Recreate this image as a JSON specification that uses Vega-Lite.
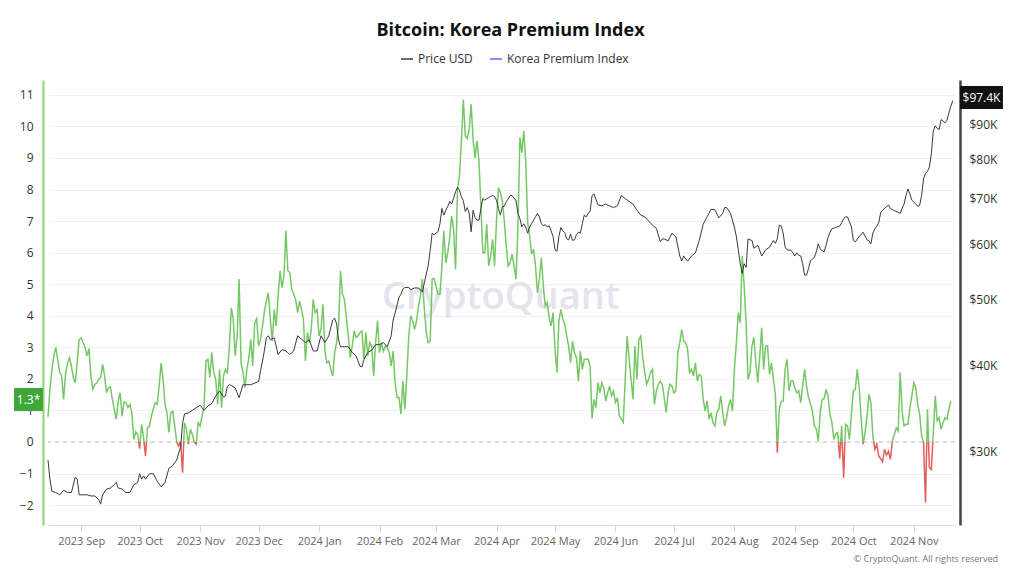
{
"$schema":"https://vega.github.io/schema/vega-lite/v6.json",
"width":907,"height":445,
"autosize":{"type":"none"},
"padding":{"left":48,"top":80,"right":69,"bottom":51},
"background":"white",
"config":{"font":"Open Sans","view":{"stroke":null},
 "axisY":{"title":null}},
"title":{"text":"Bitcoin: Korea Premium Index","fontSize":18,"fontWeight":"bold","color":"#111","anchor":"middle","frame":"group","dx":9,"offset":12},
"datasets":{
"prem":[
{"t":"2023-08-15","k":0.8},{"t":"2023-08-16","k":1.67},{"t":"2023-08-17","k":2.3},{"t":"2023-08-18","k":2.73},{"t":"2023-08-19","k":3.0},{"t":"2023-08-20","k":2.62},{"t":"2023-08-21","k":2.2},{"t":"2023-08-22","k":2.1},{"t":"2023-08-23","k":1.35},{"t":"2023-08-24","k":2.15},{"t":"2023-08-25","k":2.5},{"t":"2023-08-26","k":2.67},{"t":"2023-08-27","k":2.4},{"t":"2023-08-28","k":2.04},{"t":"2023-08-29","k":1.88},{"t":"2023-08-30","k":2.57},{"t":"2023-08-31","k":3.25},
{"t":"2023-09-01","k":3.3},{"t":"2023-09-02","k":3.15},{"t":"2023-09-03","k":3.0},{"t":"2023-09-04","k":2.73},{"t":"2023-09-05","k":2.96},{"t":"2023-09-06","k":2.1},{"t":"2023-09-07","k":1.67},{"t":"2023-09-08","k":1.83},{"t":"2023-09-09","k":1.86},{"t":"2023-09-10","k":1.99},{"t":"2023-09-11","k":2.04},{"t":"2023-09-12","k":2.46},{"t":"2023-09-13","k":2.1},{"t":"2023-09-14","k":1.56},{"t":"2023-09-15","k":1.72},{"t":"2023-09-16","k":1.75},{"t":"2023-09-17","k":1.35},{"t":"2023-09-18","k":1.04},{"t":"2023-09-19","k":0.72},{"t":"2023-09-20","k":1.3},{"t":"2023-09-21","k":1.56},{"t":"2023-09-22","k":0.82},{"t":"2023-09-23","k":1.27},{"t":"2023-09-24","k":1.25},{"t":"2023-09-25","k":1.09},{"t":"2023-09-26","k":1.19},{"t":"2023-09-27","k":0.93},{"t":"2023-09-28","k":0.08},{"t":"2023-09-29","k":0.32},{"t":"2023-09-30","k":0.24},
{"t":"2023-10-01","k":-0.21},{"t":"2023-10-02","k":0.56},{"t":"2023-10-03","k":0.14},{"t":"2023-10-04","k":-0.44},{"t":"2023-10-05","k":0.45},{"t":"2023-10-06","k":0.5},{"t":"2023-10-07","k":0.82},{"t":"2023-10-08","k":1.04},{"t":"2023-10-09","k":1.25},{"t":"2023-10-10","k":1.19},{"t":"2023-10-11","k":1.77},{"t":"2023-10-12","k":2.5},{"t":"2023-10-13","k":1.99},{"t":"2023-10-14","k":1.19},{"t":"2023-10-15","k":0.93},{"t":"2023-10-16","k":0.3},{"t":"2023-10-17","k":0.93},{"t":"2023-10-18","k":0.98},{"t":"2023-10-19","k":0.5},{"t":"2023-10-20","k":0.0},{"t":"2023-10-21","k":-0.13},{"t":"2023-10-22","k":0.03},{"t":"2023-10-23","k":-0.97},{"t":"2023-10-24","k":0.61},{"t":"2023-10-25","k":0.4},{"t":"2023-10-26","k":-0.07},{"t":"2023-10-27","k":0.4},{"t":"2023-10-28","k":0.24},{"t":"2023-10-29","k":0.0},{"t":"2023-10-30","k":-0.07},{"t":"2023-10-31","k":0.61},
{"t":"2023-11-01","k":0.5},{"t":"2023-11-02","k":0.82},{"t":"2023-11-03","k":1.09},{"t":"2023-11-04","k":2.57},{"t":"2023-11-05","k":2.62},{"t":"2023-11-06","k":2.04},{"t":"2023-11-07","k":2.83},{"t":"2023-11-08","k":2.2},{"t":"2023-11-09","k":1.99},{"t":"2023-11-10","k":1.19},{"t":"2023-11-11","k":2.3},{"t":"2023-11-12","k":1.09},{"t":"2023-11-13","k":2.1},{"t":"2023-11-14","k":2.3},{"t":"2023-11-15","k":2.2},{"t":"2023-11-16","k":3.0},{"t":"2023-11-17","k":4.25},{"t":"2023-11-18","k":3.9},{"t":"2023-11-19","k":2.73},{"t":"2023-11-20","k":3.36},{"t":"2023-11-21","k":5.16},{"t":"2023-11-22","k":2.5},{"t":"2023-11-23","k":2.2},{"t":"2023-11-24","k":1.72},{"t":"2023-11-25","k":2.3},{"t":"2023-11-26","k":2.67},{"t":"2023-11-27","k":3.25},{"t":"2023-11-28","k":2.41},{"t":"2023-11-29","k":3.78},{"t":"2023-11-30","k":3.91},
{"t":"2023-12-01","k":3.04},{"t":"2023-12-02","k":3.25},{"t":"2023-12-03","k":3.68},{"t":"2023-12-04","k":4.15},{"t":"2023-12-05","k":4.47},{"t":"2023-12-06","k":4.73},{"t":"2023-12-07","k":3.89},{"t":"2023-12-08","k":3.2},{"t":"2023-12-09","k":4.2},{"t":"2023-12-10","k":3.68},{"t":"2023-12-11","k":4.63},{"t":"2023-12-12","k":5.42},{"t":"2023-12-13","k":4.89},{"t":"2023-12-14","k":5.26},{"t":"2023-12-15","k":6.69},{"t":"2023-12-16","k":5.42},{"t":"2023-12-17","k":5.37},{"t":"2023-12-18","k":4.84},{"t":"2023-12-19","k":4.68},{"t":"2023-12-20","k":4.52},{"t":"2023-12-21","k":4.1},{"t":"2023-12-22","k":4.47},{"t":"2023-12-23","k":4.2},{"t":"2023-12-24","k":3.89},{"t":"2023-12-25","k":2.57},{"t":"2023-12-26","k":3.47},{"t":"2023-12-27","k":3.15},{"t":"2023-12-28","k":3.57},{"t":"2023-12-29","k":4.52},{"t":"2023-12-30","k":4.1},{"t":"2023-12-31","k":4.2},
{"t":"2024-01-01","k":3.36},{"t":"2024-01-02","k":3.57},{"t":"2024-01-03","k":4.36},{"t":"2024-01-04","k":2.88},{"t":"2024-01-05","k":2.51},{"t":"2024-01-06","k":2.57},{"t":"2024-01-07","k":2.3},{"t":"2024-01-08","k":2.09},{"t":"2024-01-09","k":2.83},{"t":"2024-01-10","k":3.15},{"t":"2024-01-11","k":3.68},{"t":"2024-01-12","k":5.42},{"t":"2024-01-13","k":4.68},{"t":"2024-01-14","k":4.52},{"t":"2024-01-15","k":3.94},{"t":"2024-01-16","k":3.36},{"t":"2024-01-17","k":2.67},{"t":"2024-01-18","k":3.04},{"t":"2024-01-19","k":3.52},{"t":"2024-01-20","k":3.31},{"t":"2024-01-21","k":3.36},{"t":"2024-01-22","k":3.47},{"t":"2024-01-23","k":3.52},{"t":"2024-01-24","k":2.62},{"t":"2024-01-25","k":3.47},{"t":"2024-01-26","k":2.73},{"t":"2024-01-27","k":3.15},{"t":"2024-01-28","k":3.04},{"t":"2024-01-29","k":2.09},{"t":"2024-01-30","k":3.15},{"t":"2024-01-31","k":3.84},
{"t":"2024-02-01","k":2.83},{"t":"2024-02-02","k":3.15},{"t":"2024-02-03","k":2.88},{"t":"2024-02-04","k":3.04},{"t":"2024-02-05","k":2.99},{"t":"2024-02-06","k":2.83},{"t":"2024-02-07","k":2.41},{"t":"2024-02-08","k":2.88},{"t":"2024-02-09","k":1.88},{"t":"2024-02-10","k":1.41},{"t":"2024-02-11","k":1.41},{"t":"2024-02-12","k":0.88},{"t":"2024-02-13","k":1.93},{"t":"2024-02-14","k":1.04},{"t":"2024-02-15","k":2.09},{"t":"2024-02-16","k":3.36},{"t":"2024-02-17","k":4.0},{"t":"2024-02-18","k":3.84},{"t":"2024-02-19","k":3.57},{"t":"2024-02-20","k":3.84},{"t":"2024-02-21","k":4.31},{"t":"2024-02-22","k":4.63},{"t":"2024-02-23","k":5.16},{"t":"2024-02-24","k":4.2},{"t":"2024-02-25","k":3.47},{"t":"2024-02-26","k":3.15},{"t":"2024-02-27","k":3.2},{"t":"2024-02-28","k":5.16},{"t":"2024-02-29","k":5.18},
{"t":"2024-03-01","k":4.94},{"t":"2024-03-02","k":4.68},{"t":"2024-03-03","k":4.68},{"t":"2024-03-04","k":5.58},{"t":"2024-03-05","k":6.69},{"t":"2024-03-06","k":5.68},{"t":"2024-03-07","k":6.0},{"t":"2024-03-08","k":6.48},{"t":"2024-03-09","k":7.16},{"t":"2024-03-10","k":6.74},{"t":"2024-03-11","k":5.47},{"t":"2024-03-12","k":8.0},{"t":"2024-03-13","k":8.43},{"t":"2024-03-14","k":9.54},{"t":"2024-03-15","k":10.85},{"t":"2024-03-16","k":9.7},{"t":"2024-03-17","k":9.62},{"t":"2024-03-18","k":9.91},{"t":"2024-03-19","k":10.7},{"t":"2024-03-20","k":9.59},{"t":"2024-03-21","k":9.0},{"t":"2024-03-22","k":9.54},{"t":"2024-03-23","k":8.9},{"t":"2024-03-24","k":7.48},{"t":"2024-03-25","k":6.0},{"t":"2024-03-26","k":6.0},{"t":"2024-03-27","k":6.9},{"t":"2024-03-28","k":5.58},{"t":"2024-03-29","k":5.9},{"t":"2024-03-30","k":6.42},{"t":"2024-03-31","k":5.58},
{"t":"2024-04-01","k":7.0},{"t":"2024-04-02","k":8.06},{"t":"2024-04-03","k":7.9},{"t":"2024-04-04","k":7.64},{"t":"2024-04-05","k":7.0},{"t":"2024-04-06","k":6.2},{"t":"2024-04-07","k":5.58},{"t":"2024-04-08","k":5.68},{"t":"2024-04-09","k":5.95},{"t":"2024-04-10","k":5.58},{"t":"2024-04-11","k":5.16},{"t":"2024-04-12","k":6.85},{"t":"2024-04-13","k":9.65},{"t":"2024-04-14","k":9.17},{"t":"2024-04-15","k":9.86},{"t":"2024-04-16","k":8.85},{"t":"2024-04-17","k":6.95},{"t":"2024-04-18","k":6.52},{"t":"2024-04-19","k":5.95},{"t":"2024-04-20","k":6.11},{"t":"2024-04-21","k":5.58},{"t":"2024-04-22","k":4.73},{"t":"2024-04-23","k":5.16},{"t":"2024-04-24","k":5.84},{"t":"2024-04-25","k":4.94},{"t":"2024-04-26","k":4.31},{"t":"2024-04-27","k":4.42},{"t":"2024-04-28","k":3.94},{"t":"2024-04-29","k":3.68},{"t":"2024-04-30","k":4.1},
{"t":"2024-05-01","k":2.94},{"t":"2024-05-02","k":2.2},{"t":"2024-05-03","k":3.84},{"t":"2024-05-04","k":4.2},{"t":"2024-05-05","k":3.89},{"t":"2024-05-06","k":3.73},{"t":"2024-05-07","k":3.36},{"t":"2024-05-08","k":3.04},{"t":"2024-05-09","k":2.51},{"t":"2024-05-10","k":3.2},{"t":"2024-05-11","k":2.83},{"t":"2024-05-12","k":2.67},{"t":"2024-05-13","k":1.93},{"t":"2024-05-14","k":2.88},{"t":"2024-05-15","k":2.3},{"t":"2024-05-16","k":2.62},{"t":"2024-05-17","k":2.62},{"t":"2024-05-18","k":2.62},{"t":"2024-05-19","k":2.41},{"t":"2024-05-20","k":0.75},{"t":"2024-05-21","k":1.35},{"t":"2024-05-22","k":1.09},{"t":"2024-05-23","k":1.88},{"t":"2024-05-24","k":1.56},{"t":"2024-05-25","k":1.88},{"t":"2024-05-26","k":1.72},{"t":"2024-05-27","k":1.3},{"t":"2024-05-28","k":1.56},{"t":"2024-05-29","k":1.77},{"t":"2024-05-30","k":1.46},{"t":"2024-05-31","k":1.62},
{"t":"2024-06-01","k":1.25},{"t":"2024-06-02","k":1.41},{"t":"2024-06-03","k":0.82},{"t":"2024-06-04","k":0.74},{"t":"2024-06-05","k":0.63},{"t":"2024-06-06","k":1.99},{"t":"2024-06-07","k":3.36},{"t":"2024-06-08","k":2.62},{"t":"2024-06-09","k":1.99},{"t":"2024-06-10","k":1.35},{"t":"2024-06-11","k":3.04},{"t":"2024-06-12","k":1.99},{"t":"2024-06-13","k":3.25},{"t":"2024-06-14","k":3.36},{"t":"2024-06-15","k":2.67},{"t":"2024-06-16","k":2.2},{"t":"2024-06-17","k":1.83},{"t":"2024-06-18","k":1.99},{"t":"2024-06-19","k":2.2},{"t":"2024-06-20","k":2.3},{"t":"2024-06-21","k":1.19},{"t":"2024-06-22","k":1.62},{"t":"2024-06-23","k":1.83},{"t":"2024-06-24","k":1.93},{"t":"2024-06-25","k":1.83},{"t":"2024-06-26","k":1.41},{"t":"2024-06-27","k":0.93},{"t":"2024-06-28","k":1.56},{"t":"2024-06-29","k":1.83},{"t":"2024-06-30","k":1.77},
{"t":"2024-07-01","k":1.56},{"t":"2024-07-02","k":1.62},{"t":"2024-07-03","k":2.83},{"t":"2024-07-04","k":3.15},{"t":"2024-07-05","k":3.57},{"t":"2024-07-06","k":3.2},{"t":"2024-07-07","k":3.15},{"t":"2024-07-08","k":2.94},{"t":"2024-07-09","k":2.2},{"t":"2024-07-10","k":2.3},{"t":"2024-07-11","k":2.09},{"t":"2024-07-12","k":2.51},{"t":"2024-07-13","k":1.93},{"t":"2024-07-14","k":2.14},{"t":"2024-07-15","k":2.09},{"t":"2024-07-16","k":1.35},{"t":"2024-07-17","k":0.98},{"t":"2024-07-18","k":1.3},{"t":"2024-07-19","k":0.72},{"t":"2024-07-20","k":0.93},{"t":"2024-07-21","k":0.61},{"t":"2024-07-22","k":0.51},{"t":"2024-07-23","k":0.93},{"t":"2024-07-24","k":1.04},{"t":"2024-07-25","k":1.46},{"t":"2024-07-26","k":0.93},{"t":"2024-07-27","k":0.51},{"t":"2024-07-28","k":0.77},{"t":"2024-07-29","k":1.14},{"t":"2024-07-30","k":1.35},{"t":"2024-07-31","k":0.98},
{"t":"2024-08-01","k":2.3},{"t":"2024-08-02","k":3.15},{"t":"2024-08-03","k":4.1},{"t":"2024-08-04","k":3.78},{"t":"2024-08-05","k":5.9},{"t":"2024-08-06","k":4.94},{"t":"2024-08-07","k":3.78},{"t":"2024-08-08","k":1.99},{"t":"2024-08-09","k":2.2},{"t":"2024-08-10","k":3.04},{"t":"2024-08-11","k":3.31},{"t":"2024-08-12","k":2.51},{"t":"2024-08-13","k":1.88},{"t":"2024-08-14","k":2.73},{"t":"2024-08-15","k":3.62},{"t":"2024-08-16","k":2.3},{"t":"2024-08-17","k":3.04},{"t":"2024-08-18","k":3.04},{"t":"2024-08-19","k":2.14},{"t":"2024-08-20","k":2.51},{"t":"2024-08-21","k":1.99},{"t":"2024-08-22","k":1.5},{"t":"2024-08-23","k":-0.34},{"t":"2024-08-24","k":1.04},{"t":"2024-08-25","k":1.28},{"t":"2024-08-26","k":1.3},{"t":"2024-08-27","k":2.3},{"t":"2024-08-28","k":2.62},{"t":"2024-08-29","k":1.62},{"t":"2024-08-30","k":1.93},{"t":"2024-08-31","k":1.93},
{"t":"2024-09-01","k":1.72},{"t":"2024-09-02","k":1.56},{"t":"2024-09-03","k":1.62},{"t":"2024-09-04","k":1.25},{"t":"2024-09-05","k":1.77},{"t":"2024-09-06","k":2.3},{"t":"2024-09-07","k":1.77},{"t":"2024-09-08","k":1.41},{"t":"2024-09-09","k":1.22},{"t":"2024-09-10","k":0.98},{"t":"2024-09-11","k":0.51},{"t":"2024-09-12","k":0.42},{"t":"2024-09-13","k":0.03},{"t":"2024-09-14","k":0.93},{"t":"2024-09-15","k":1.35},{"t":"2024-09-16","k":1.37},{"t":"2024-09-17","k":1.67},{"t":"2024-09-18","k":1.46},{"t":"2024-09-19","k":0.88},{"t":"2024-09-20","k":0.61},{"t":"2024-09-21","k":0.08},{"t":"2024-09-22","k":0.27},{"t":"2024-09-23","k":0.3},{"t":"2024-09-24","k":-0.53},{"t":"2024-09-25","k":0.51},{"t":"2024-09-26","k":-1.13},{"t":"2024-09-27","k":0.56},{"t":"2024-09-28","k":0.51},{"t":"2024-09-29","k":0.08},{"t":"2024-09-30","k":0.88},
{"t":"2024-10-01","k":1.62},{"t":"2024-10-02","k":1.67},{"t":"2024-10-03","k":2.3},{"t":"2024-10-04","k":1.72},{"t":"2024-10-05","k":0.72},{"t":"2024-10-06","k":-0.07},{"t":"2024-10-07","k":0.3},{"t":"2024-10-08","k":0.82},{"t":"2024-10-09","k":1.51},{"t":"2024-10-10","k":1.25},{"t":"2024-10-11","k":0.19},{"t":"2024-10-12","k":-0.23},{"t":"2024-10-13","k":-0.07},{"t":"2024-10-14","k":-0.44},{"t":"2024-10-15","k":-0.53},{"t":"2024-10-16","k":-0.63},{"t":"2024-10-17","k":-0.23},{"t":"2024-10-18","k":-0.42},{"t":"2024-10-19","k":-0.29},{"t":"2024-10-20","k":-0.55},{"t":"2024-10-21","k":0.03},{"t":"2024-10-22","k":0.24},{"t":"2024-10-23","k":0.45},{"t":"2024-10-24","k":0.35},{"t":"2024-10-25","k":2.2},{"t":"2024-10-26","k":0.98},{"t":"2024-10-27","k":0.51},{"t":"2024-10-28","k":0.56},{"t":"2024-10-29","k":0.56},{"t":"2024-10-30","k":1.09},{"t":"2024-10-31","k":1.46},
{"t":"2024-11-01","k":1.88},{"t":"2024-11-02","k":1.72},{"t":"2024-11-03","k":1.19},{"t":"2024-11-04","k":0.88},{"t":"2024-11-05","k":0.19},{"t":"2024-11-06","k":0.0},{"t":"2024-11-07","k":-1.92},{"t":"2024-11-08","k":1.04},{"t":"2024-11-09","k":-0.81},{"t":"2024-11-10","k":-0.87},{"t":"2024-11-11","k":0.3},{"t":"2024-11-12","k":1.46},{"t":"2024-11-13","k":0.67},{"t":"2024-11-14","k":0.77},{"t":"2024-11-15","k":0.4},{"t":"2024-11-16","k":0.61},{"t":"2024-11-17","k":0.77},{"t":"2024-11-18","k":0.72},{"t":"2024-11-19","k":1.04},{"t":"2024-11-20","k":1.3}
],
"price":[
{"t":"2023-08-15","p":29100},{"t":"2023-08-16","p":27300},{"t":"2023-08-17","p":26200},{"t":"2023-08-19","p":26100},{"t":"2023-08-21","p":25900},{"t":"2023-08-23","p":26300},{"t":"2023-08-25","p":26100},{"t":"2023-08-27","p":26100},{"t":"2023-08-29","p":27500},{"t":"2023-08-30","p":27300},{"t":"2023-08-31","p":25900},
{"t":"2023-09-02","p":25900},{"t":"2023-09-04","p":25900},{"t":"2023-09-06","p":25800},{"t":"2023-09-08","p":25800},{"t":"2023-09-10","p":25500},{"t":"2023-09-11","p":25100},{"t":"2023-09-12","p":25900},{"t":"2023-09-14","p":26400},{"t":"2023-09-16","p":26500},{"t":"2023-09-18","p":26800},{"t":"2023-09-19","p":27000},{"t":"2023-09-20","p":26500},{"t":"2023-09-22","p":26400},{"t":"2023-09-24","p":26100},{"t":"2023-09-26","p":26100},{"t":"2023-09-28","p":26800},{"t":"2023-09-30","p":27000},
{"t":"2023-10-01","p":27800},{"t":"2023-10-02","p":27300},{"t":"2023-10-03","p":27600},{"t":"2023-10-04","p":27300},{"t":"2023-10-06","p":27800},{"t":"2023-10-08","p":27800},{"t":"2023-10-10","p":27100},{"t":"2023-10-12","p":26600},{"t":"2023-10-14","p":27000},{"t":"2023-10-16","p":28300},{"t":"2023-10-18","p":28600},{"t":"2023-10-20","p":29100},{"t":"2023-10-21","p":29800},{"t":"2023-10-22","p":30400},{"t":"2023-10-23","p":32900},{"t":"2023-10-24","p":34000},{"t":"2023-10-26","p":34100},{"t":"2023-10-28","p":34400},{"t":"2023-10-30","p":34700},
{"t":"2023-11-01","p":35000},{"t":"2023-11-03","p":34400},{"t":"2023-11-05","p":34900},{"t":"2023-11-07","p":35200},{"t":"2023-11-09","p":36100},{"t":"2023-11-11","p":36700},{"t":"2023-11-13","p":36000},{"t":"2023-11-14","p":36100},{"t":"2023-11-15","p":37300},{"t":"2023-11-16","p":37500},{"t":"2023-11-17","p":37400},{"t":"2023-11-19","p":37100},{"t":"2023-11-21","p":35900},{"t":"2023-11-23","p":37500},{"t":"2023-11-25","p":37500},{"t":"2023-11-27","p":37500},{"t":"2023-11-29","p":37700},
{"t":"2023-12-01","p":37900},{"t":"2023-12-02","p":39300},{"t":"2023-12-03","p":40600},{"t":"2023-12-04","p":42100},{"t":"2023-12-05","p":43900},{"t":"2023-12-06","p":44200},{"t":"2023-12-07","p":43600},{"t":"2023-12-09","p":43900},{"t":"2023-12-11","p":41500},{"t":"2023-12-13","p":42200},{"t":"2023-12-15","p":42000},{"t":"2023-12-17","p":41500},{"t":"2023-12-19","p":42000},{"t":"2023-12-21","p":44200},{"t":"2023-12-23","p":43700},{"t":"2023-12-25","p":43200},{"t":"2023-12-27","p":43600},{"t":"2023-12-29","p":42000},{"t":"2023-12-31","p":42000},
{"t":"2024-01-02","p":44200},{"t":"2024-01-04","p":43200},{"t":"2024-01-06","p":44200},{"t":"2024-01-08","p":46600},{"t":"2024-01-09","p":46900},{"t":"2024-01-10","p":46000},{"t":"2024-01-11","p":43600},{"t":"2024-01-12","p":42600},{"t":"2024-01-14","p":42600},{"t":"2024-01-16","p":42600},{"t":"2024-01-18","p":41800},{"t":"2024-01-20","p":41300},{"t":"2024-01-22","p":39900},{"t":"2024-01-23","p":39800},{"t":"2024-01-24","p":40800},{"t":"2024-01-26","p":41800},{"t":"2024-01-28","p":42100},{"t":"2024-01-30","p":42900},
{"t":"2024-02-01","p":42900},{"t":"2024-02-03","p":43200},{"t":"2024-02-05","p":42600},{"t":"2024-02-07","p":44200},{"t":"2024-02-08","p":46600},{"t":"2024-02-09","p":47700},{"t":"2024-02-10","p":49000},{"t":"2024-02-11","p":50300},{"t":"2024-02-12","p":50800},{"t":"2024-02-13","p":51700},{"t":"2024-02-14","p":52000},{"t":"2024-02-16","p":52000},{"t":"2024-02-17","p":51600},{"t":"2024-02-19","p":51900},{"t":"2024-02-21","p":51900},{"t":"2024-02-23","p":51200},{"t":"2024-02-24","p":52800},{"t":"2024-02-25","p":54400},{"t":"2024-02-26","p":56000},{"t":"2024-02-27","p":58900},{"t":"2024-02-28","p":62400},{"t":"2024-02-29","p":62100},
{"t":"2024-03-01","p":62400},{"t":"2024-03-02","p":62700},{"t":"2024-03-03","p":64400},{"t":"2024-03-04","p":67800},{"t":"2024-03-05","p":66300},{"t":"2024-03-06","p":67400},{"t":"2024-03-07","p":68300},{"t":"2024-03-08","p":69400},{"t":"2024-03-09","p":68800},{"t":"2024-03-10","p":70100},{"t":"2024-03-11","p":71700},{"t":"2024-03-12","p":72800},{"t":"2024-03-13","p":72100},{"t":"2024-03-14","p":70500},{"t":"2024-03-15","p":69600},{"t":"2024-03-16","p":67100},{"t":"2024-03-17","p":68000},{"t":"2024-03-18","p":66700},{"t":"2024-03-19","p":62700},{"t":"2024-03-20","p":67400},{"t":"2024-03-21","p":65700},{"t":"2024-03-22","p":65200},{"t":"2024-03-23","p":65200},{"t":"2024-03-24","p":67800},{"t":"2024-03-25","p":70100},{"t":"2024-03-26","p":69700},{"t":"2024-03-27","p":70100},{"t":"2024-03-28","p":70300},{"t":"2024-03-29","p":70600},{"t":"2024-03-30","p":70800},{"t":"2024-03-31","p":70600},
{"t":"2024-04-01","p":69700},{"t":"2024-04-02","p":67800},{"t":"2024-04-03","p":66300},{"t":"2024-04-04","p":68200},{"t":"2024-04-05","p":68300},{"t":"2024-04-06","p":69400},{"t":"2024-04-07","p":70000},{"t":"2024-04-08","p":70800},{"t":"2024-04-09","p":70800},{"t":"2024-04-10","p":70100},{"t":"2024-04-11","p":69700},{"t":"2024-04-12","p":66700},{"t":"2024-04-13","p":65500},{"t":"2024-04-14","p":63700},{"t":"2024-04-15","p":64400},{"t":"2024-04-16","p":63700},{"t":"2024-04-17","p":62400},{"t":"2024-04-18","p":63700},{"t":"2024-04-19","p":64400},{"t":"2024-04-20","p":65200},{"t":"2024-04-21","p":65900},{"t":"2024-04-22","p":66700},{"t":"2024-04-23","p":65900},{"t":"2024-04-24","p":64400},{"t":"2024-04-25","p":64000},{"t":"2024-04-26","p":64200},{"t":"2024-04-27","p":63700},{"t":"2024-04-28","p":64000},{"t":"2024-04-29","p":62900},{"t":"2024-04-30","p":61700},
{"t":"2024-05-01","p":59000},{"t":"2024-05-02","p":58700},{"t":"2024-05-03","p":61700},{"t":"2024-05-04","p":63600},{"t":"2024-05-05","p":62900},{"t":"2024-05-06","p":62500},{"t":"2024-05-07","p":61200},{"t":"2024-05-08","p":61000},{"t":"2024-05-09","p":62200},{"t":"2024-05-10","p":60900},{"t":"2024-05-11","p":61000},{"t":"2024-05-12","p":62100},{"t":"2024-05-13","p":62600},{"t":"2024-05-14","p":62400},{"t":"2024-05-15","p":64400},{"t":"2024-05-16","p":66300},{"t":"2024-05-17","p":65900},{"t":"2024-05-18","p":66700},{"t":"2024-05-19","p":67100},{"t":"2024-05-20","p":70800},{"t":"2024-05-21","p":71200},{"t":"2024-05-23","p":68600},{"t":"2024-05-25","p":68400},{"t":"2024-05-27","p":68800},{"t":"2024-05-29","p":68400},{"t":"2024-05-31","p":68000},
{"t":"2024-06-02","p":68400},{"t":"2024-06-04","p":70800},{"t":"2024-06-06","p":70100},{"t":"2024-06-08","p":69400},{"t":"2024-06-10","p":68800},{"t":"2024-06-12","p":67400},{"t":"2024-06-14","p":66300},{"t":"2024-06-16","p":65900},{"t":"2024-06-18","p":65000},{"t":"2024-06-20","p":64100},{"t":"2024-06-22","p":63400},{"t":"2024-06-24","p":60600},{"t":"2024-06-25","p":61200},{"t":"2024-06-26","p":61200},{"t":"2024-06-28","p":60800},{"t":"2024-06-30","p":62400},
{"t":"2024-07-02","p":61600},{"t":"2024-07-04","p":57800},{"t":"2024-07-05","p":56800},{"t":"2024-07-06","p":57800},{"t":"2024-07-07","p":57200},{"t":"2024-07-08","p":56800},{"t":"2024-07-10","p":57800},{"t":"2024-07-12","p":58400},{"t":"2024-07-14","p":60900},{"t":"2024-07-16","p":64300},{"t":"2024-07-18","p":65900},{"t":"2024-07-20","p":67600},{"t":"2024-07-22","p":67500},{"t":"2024-07-24","p":65700},{"t":"2024-07-26","p":66700},{"t":"2024-07-27","p":68000},{"t":"2024-07-28","p":68000},{"t":"2024-07-30","p":66700},
{"t":"2024-08-01","p":63700},{"t":"2024-08-02","p":61700},{"t":"2024-08-03","p":59000},{"t":"2024-08-04","p":56300},{"t":"2024-08-05","p":54500},{"t":"2024-08-06","p":56300},{"t":"2024-08-07","p":55600},{"t":"2024-08-08","p":61200},{"t":"2024-08-09","p":61000},{"t":"2024-08-10","p":60900},{"t":"2024-08-11","p":59300},{"t":"2024-08-13","p":59900},{"t":"2024-08-15","p":57800},{"t":"2024-08-17","p":59000},{"t":"2024-08-19","p":59500},{"t":"2024-08-21","p":60900},{"t":"2024-08-22","p":60300},{"t":"2024-08-23","p":61200},{"t":"2024-08-24","p":64100},{"t":"2024-08-25","p":63900},{"t":"2024-08-26","p":62400},{"t":"2024-08-27","p":59600},{"t":"2024-08-28","p":59000},{"t":"2024-08-30","p":58900},{"t":"2024-08-31","p":58400},
{"t":"2024-09-01","p":57800},{"t":"2024-09-02","p":58400},{"t":"2024-09-03","p":57900},{"t":"2024-09-04","p":57800},{"t":"2024-09-05","p":56300},{"t":"2024-09-06","p":54200},{"t":"2024-09-07","p":54200},{"t":"2024-09-08","p":55400},{"t":"2024-09-09","p":56900},{"t":"2024-09-10","p":57200},{"t":"2024-09-11","p":57500},{"t":"2024-09-12","p":58600},{"t":"2024-09-13","p":60200},{"t":"2024-09-14","p":59200},{"t":"2024-09-15","p":58800},{"t":"2024-09-16","p":58600},{"t":"2024-09-17","p":59900},{"t":"2024-09-18","p":61500},{"t":"2024-09-19","p":62600},{"t":"2024-09-20","p":63300},{"t":"2024-09-22","p":63600},{"t":"2024-09-24","p":63900},{"t":"2024-09-25","p":64600},{"t":"2024-09-26","p":65500},{"t":"2024-09-27","p":65900},{"t":"2024-09-28","p":65900},{"t":"2024-09-29","p":64800},{"t":"2024-09-30","p":63700},
{"t":"2024-10-01","p":60900},{"t":"2024-10-02","p":60600},{"t":"2024-10-04","p":61700},{"t":"2024-10-06","p":62600},{"t":"2024-10-08","p":61000},{"t":"2024-10-09","p":60800},{"t":"2024-10-10","p":60200},{"t":"2024-10-11","p":62400},{"t":"2024-10-12","p":63300},{"t":"2024-10-14","p":64600},{"t":"2024-10-15","p":66800},{"t":"2024-10-16","p":67400},{"t":"2024-10-18","p":68200},{"t":"2024-10-19","p":68600},{"t":"2024-10-20","p":67800},{"t":"2024-10-22","p":67300},{"t":"2024-10-24","p":66900},{"t":"2024-10-25","p":66700},{"t":"2024-10-26","p":67800},{"t":"2024-10-27","p":68800},{"t":"2024-10-28","p":70800},{"t":"2024-10-29","p":72400},{"t":"2024-10-30","p":71200},{"t":"2024-10-31","p":69700},
{"t":"2024-11-01","p":69300},{"t":"2024-11-02","p":68800},{"t":"2024-11-03","p":68300},{"t":"2024-11-04","p":68500},{"t":"2024-11-05","p":70800},{"t":"2024-11-06","p":74900},{"t":"2024-11-07","p":76300},{"t":"2024-11-08","p":76800},{"t":"2024-11-09","p":77900},{"t":"2024-11-10","p":81500},{"t":"2024-11-11","p":88000},{"t":"2024-11-12","p":89500},{"t":"2024-11-13","p":88700},{"t":"2024-11-14","p":88400},{"t":"2024-11-15","p":91400},{"t":"2024-11-16","p":91000},{"t":"2024-11-17","p":90400},{"t":"2024-11-18","p":91200},{"t":"2024-11-19","p":93500},{"t":"2024-11-20","p":95600},{"t":"2024-11-21","p":97400}
]
},
"layer":[
{"layer":[
{"data":{"values":[{}]},"mark":{"type":"rule","color":"#c4c4c4","strokeDash":[4,4],"strokeWidth":1},
 "encoding":{"y":{"datum":0,"type":"quantitative","scale":{"domain":[-2.63,11.47],"nice":false,"zero":false},
   "axis":{"title":null,"orient":"left","values":[-2,-1,0,1,2,3,4,5,6,7,8,9,10,11],"offset":5,"domainColor":"#8ad67b","domainWidth":2,"ticks":false,"labelPadding":10,"labelFontSize":12,"labelColor":"#333","grid":true,"gridColor":"#f1f1f1"}}}},
{"data":{"values":[{}]},"mark":{"type":"text","text":"CryptoQuant","fontSize":38,"fontWeight":600,"color":"#e4e4ec","align":"center","baseline":"middle"},
 "encoding":{"x":{"datum":{"year":2024,"month":4,"date":3,"hours":7},"type":"temporal","scale":{"domain":[{"year":2023,"month":8,"date":15},{"year":2024,"month":11,"date":22,"hours":3}]},
   "axis":{"title":null,"format":"%Y %b","tickCount":{"interval":"month","step":1},"domainColor":"#dcdce4","tickColor":"#cfcfd8","tickSize":6,"labelFontSize":11,"labelColor":"#666","labelPadding":4,"grid":false,"labelFlush":false,"labelOverlap":false}},
  "y":{"datum":4.56,"type":"quantitative","scale":{"domain":[-2.63,11.47],"nice":false,"zero":false},
   "axis":{"title":null,"orient":"left","values":[-2,-1,0,1,2,3,4,5,6,7,8,9,10,11],"offset":5,"domainColor":"#8ad67b","domainWidth":2,"ticks":false,"labelPadding":10,"labelFontSize":12,"labelColor":"#333","grid":true,"gridColor":"#f1f1f1"}}}},
{"data":{"name":"prem"},"mark":{"type":"line","strokeWidth":1.5,"stroke":{"gradient":"linear","x1":0,"y1":0,"x2":0,"y2":1,"stops":[{"offset":0,"color":"#76c866"},{"offset":0.8497,"color":"#76c866"},{"offset":0.8497,"color":"#e35d5d"},{"offset":1,"color":"#e35d5d"}]}},
 "encoding":{"x":{"field":"t","type":"temporal","scale":{"domain":[{"year":2023,"month":8,"date":15},{"year":2024,"month":11,"date":22,"hours":3}]},
   "axis":{"title":null,"format":"%Y %b","tickCount":{"interval":"month","step":1},"domainColor":"#dcdce4","tickColor":"#cfcfd8","tickSize":6,"labelFontSize":11,"labelColor":"#666","labelPadding":4,"grid":false,"labelFlush":false,"labelOverlap":false}},
  "y":{"field":"k","type":"quantitative","scale":{"domain":[-2.63,11.47],"nice":false,"zero":false},
   "axis":{"title":null,"orient":"left","values":[-2,-1,0,1,2,3,4,5,6,7,8,9,10,11],"offset":5,"domainColor":"#8ad67b","domainWidth":2,"ticks":false,"labelPadding":10,"labelFontSize":12,"labelColor":"#333","grid":true,"gridColor":"#f1f1f1"}}}},
{"data":{"values":[{}]},"mark":{"type":"rect","color":"#3fa63a"},
 "encoding":{"x":{"datum":{"year":2023,"month":7,"date":28,"hours":14},"type":"temporal",
   "axis":{"title":null,"format":"%Y %b","tickCount":{"interval":"month","step":1},"domainColor":"#dcdce4","tickColor":"#cfcfd8","tickSize":6,"labelFontSize":11,"labelColor":"#666","labelPadding":4,"grid":false,"labelFlush":false,"labelOverlap":false}},
  "x2":{"datum":{"year":2023,"month":8,"date":12,"hours":10}},
  "y":{"datum":1.71,"type":"quantitative",
   "axis":{"title":null,"orient":"left","values":[-2,-1,0,1,2,3,4,5,6,7,8,9,10,11],"offset":5,"domainColor":"#8ad67b","domainWidth":2,"ticks":false,"labelPadding":10,"labelFontSize":12,"labelColor":"#333","grid":true,"gridColor":"#f1f1f1"}},
  "y2":{"datum":0.98}}},
{"data":{"values":[{}]},"mark":{"type":"text","text":"1.3*","fontSize":12,"color":"white","align":"center","baseline":"middle"},
 "encoding":{"x":{"datum":{"year":2023,"month":8,"date":5},"type":"temporal",
   "axis":{"title":null,"format":"%Y %b","tickCount":{"interval":"month","step":1},"domainColor":"#dcdce4","tickColor":"#cfcfd8","tickSize":6,"labelFontSize":11,"labelColor":"#666","labelPadding":4,"grid":false,"labelFlush":false,"labelOverlap":false}},
  "y":{"datum":1.34,"type":"quantitative",
   "axis":{"title":null,"orient":"left","values":[-2,-1,0,1,2,3,4,5,6,7,8,9,10,11],"offset":5,"domainColor":"#8ad67b","domainWidth":2,"ticks":false,"labelPadding":10,"labelFontSize":12,"labelColor":"#333","grid":true,"gridColor":"#f1f1f1"}}}},
{"data":{"values":[{}]},"mark":{"type":"text","text":"© CryptoQuant. All rights reserved","fontSize":9,"color":"#777","align":"right","baseline":"middle"},
 "encoding":{"x":{"datum":{"year":2024,"month":12,"date":14,"hours":5},"type":"temporal",
   "axis":{"title":null,"format":"%Y %b","tickCount":{"interval":"month","step":1},"domainColor":"#dcdce4","tickColor":"#cfcfd8","tickSize":6,"labelFontSize":11,"labelColor":"#666","labelPadding":4,"grid":false,"labelFlush":false,"labelOverlap":false}},
  "y":{"datum":-3.71,"type":"quantitative",
   "axis":{"title":null,"orient":"left","values":[-2,-1,0,1,2,3,4,5,6,7,8,9,10,11],"offset":5,"domainColor":"#8ad67b","domainWidth":2,"ticks":false,"labelPadding":10,"labelFontSize":12,"labelColor":"#333","grid":true,"gridColor":"#f1f1f1"}}}}
]},
{"layer":[
{"data":{"name":"price"},"mark":{"type":"line","strokeWidth":1,"strokeJoin":"round"},
 "encoding":{"x":{"field":"t","type":"temporal","scale":{"domain":[{"year":2023,"month":8,"date":15},{"year":2024,"month":11,"date":22,"hours":3}]},
   "axis":{"title":null,"format":"%Y %b","tickCount":{"interval":"month","step":1},"domainColor":"#dcdce4","tickColor":"#cfcfd8","tickSize":6,"labelFontSize":11,"labelColor":"#666","labelPadding":4,"grid":false,"labelFlush":false,"labelOverlap":false}},
  "y":{"field":"p","type":"quantitative","scale":{"type":"log","domain":[23400,104400],"nice":false},
   "axis":{"title":null,"orient":"right","values":[30000,40000,50000,60000,70000,80000,90000],"labelExpr":"'$' + (datum.value/1000) + 'K'","offset":5,"domainColor":"#444","domainWidth":2.5,"ticks":false,"labelPadding":9,"labelFontSize":12,"labelColor":"#333","grid":false}},
  "color":{"datum":"Price USD","type":"nominal","scale":{"domain":["Price USD","Korea Premium Index"],"range":["#3a3a3a","#7b61ff"]},
   "legend":{"orient":"none","legendX":352,"legendY":-28,"direction":"horizontal","title":null,"symbolType":"stroke","symbolStrokeWidth":1.5,"symbolSize":144,"labelFontSize":12,"labelColor":"#333","columnPadding":14,"labelOffset":4}}}},
{"data":{"values":[{}]},"mark":{"type":"rect","color":"#111"},
 "encoding":{"x":{"datum":{"year":2024,"month":11,"date":24,"hours":17},"type":"temporal",
   "axis":{"title":null,"format":"%Y %b","tickCount":{"interval":"month","step":1},"domainColor":"#dcdce4","tickColor":"#cfcfd8","tickSize":6,"labelFontSize":11,"labelColor":"#666","labelPadding":4,"grid":false,"labelFlush":false,"labelOverlap":false}},
  "x2":{"datum":{"year":2024,"month":12,"date":16,"hours":17}},
  "y":{"datum":102300,"type":"quantitative",
   "axis":{"title":null,"orient":"right","values":[30000,40000,50000,60000,70000,80000,90000],"labelExpr":"'$' + (datum.value/1000) + 'K'","offset":5,"domainColor":"#444","domainWidth":2.5,"ticks":false,"labelPadding":9,"labelFontSize":12,"labelColor":"#333","grid":false}},
  "y2":{"datum":94700}}},
{"data":{"values":[{}]},"mark":{"type":"text","text":"$97.4K","fontSize":12,"color":"white","align":"center","baseline":"middle"},
 "encoding":{"x":{"datum":{"year":2024,"month":12,"date":5,"hours":17},"type":"temporal",
   "axis":{"title":null,"format":"%Y %b","tickCount":{"interval":"month","step":1},"domainColor":"#dcdce4","tickColor":"#cfcfd8","tickSize":6,"labelFontSize":11,"labelColor":"#666","labelPadding":4,"grid":false,"labelFlush":false,"labelOverlap":false}},
  "y":{"datum":98400,"type":"quantitative",
   "axis":{"title":null,"orient":"right","values":[30000,40000,50000,60000,70000,80000,90000],"labelExpr":"'$' + (datum.value/1000) + 'K'","offset":5,"domainColor":"#444","domainWidth":2.5,"ticks":false,"labelPadding":9,"labelFontSize":12,"labelColor":"#333","grid":false}}}}
]}
],
"resolve":{"scale":{"y":"independent"},"axis":{"y":"independent"}}
}
